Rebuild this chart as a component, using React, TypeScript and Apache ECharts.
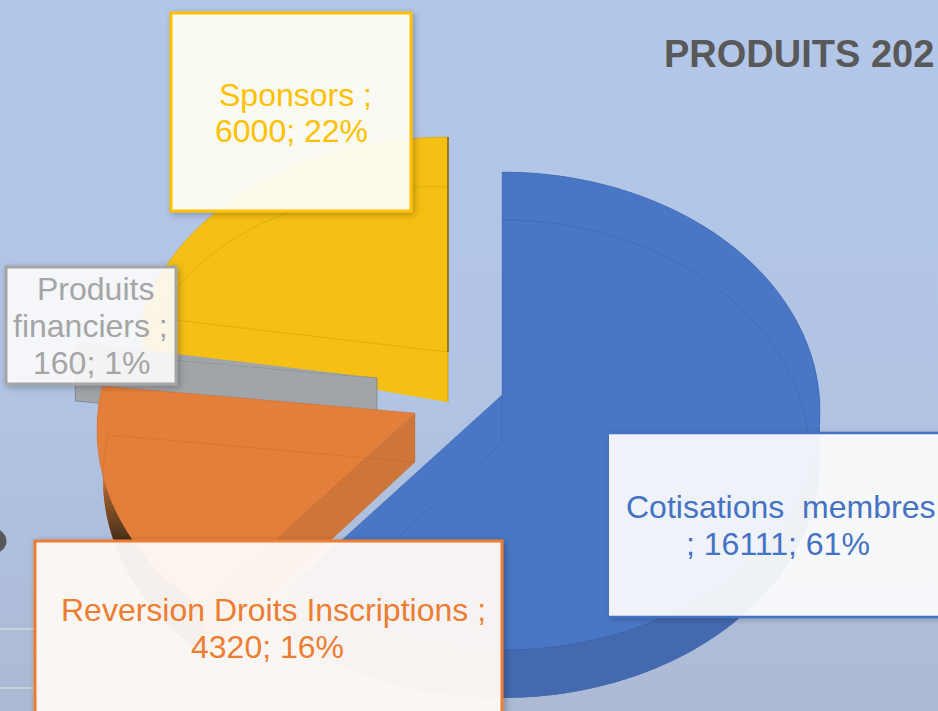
import React, { useEffect, useRef } from "react";
import * as echarts from "echarts";

// ---- data ----
const categories = ["Cotisations  membres", "Reversion Droits Inscriptions", "Produits financiers", "Sponsors"];
const seriesValues = [16111, 4320, 160, 6000];
const percentLabels = ["61%", "16%", "1%", "22%"];
const titleText = "PRODUITS 202";

// label lines, split as the picture splits them
const labelLines = [
  [`${categories[0]}`, `; ${seriesValues[0]}; ${percentLabels[0]}`],
  [`${categories[1]} ;`, `${seriesValues[1]}; ${percentLabels[1]}`],
  ["Produits", "financiers ;", `${seriesValues[2]}; ${percentLabels[2]}`],
  ["Sponsors ;", `${seriesValues[3]}; ${percentLabels[3]}`],
];

// ---- drawing layout (positions and styles only) ----
const FONT = "Liberation Sans, Arial, sans-serif";
const layout = [
  { cx: 502, cy: 411, apexY: 395, rx: 318, bottomRx: 318, rimRx: 308, ry: 239, depth: 48, startDepth: 48, order: 4,
    top: "#4a77c5", wall: "#4569ae", endWall: "#4a73bd", line: "rgba(50,85,150,.32)", color: "#4472c4", box: "rgba(255,255,255,0.9)" },
  { cx: 415, cy: 430, apexY: 413, rx: 318, bottomRx: 312, rimRx: 312, ry: 239, depth: 49, startDepth: 49, order: 3,
    top: "#e47f3b", wall: "#ce753a", endWall: "#ce753a", line: "rgba(190,95,35,.3)", color: "#ed7d31", box: "rgba(255,250,246,0.95)" },
  { cx: 377, cy: 395, apexY: 378, rx: 307, bottomRx: 307, rimRx: 307, ry: 239, depth: 50, startDepth: 50, order: 2,
    top: "#a0a5a9", wall: "#a0a5a9", endWall: "#a0a5a9", line: "rgba(120,125,130,.7)", color: "#a5a5a5", box: "rgba(255,255,255,0.88)" },
  { cx: 448, cy: 367, apexY: 352, rx: 314, bottomRx: 314, rimRx: 314, ry: 230, depth: 50, startDepth: 33, order: 1,
    top: "#f5c013", wall: "#f5bf14", endWall: "#7d6716", line: "rgba(190,145,10,.38)", color: "#ffc000", box: "rgba(255,254,245,0.94)" },
];

const boxes = [
  { x: 609, y: 433, w: 345, h: 184, textX: [626, 686], textY: [507, 544], lw: 0 },
  { x: 35, y: 541, w: 467, h: 190, textX: [61, 191], textY: [610, 647], lw: 3 },
  { x: 6, y: 267, w: 170, h: 117, textX: [37, 13, 33], textY: [289, 326, 363], lw: 3 },
  { x: 171, y: 13, w: 240, h: 198, textX: [219, 215], textY: [95, 131], lw: 3 },
];

const total = seriesValues.reduce((a, b) => a + b, 0);
const rad = (d: number) => (d * Math.PI) / 180;
// Perspective shifts the ellipse's parameter against the true pie angle.
const warp = (deg: number) => deg + 4 * Math.max(0, Math.min(1, deg / 218, (360 - deg) / 60));

function renderSlice(params: any, api: any) {
  const i = params.dataIndex;
  const L = layout[i];
  const sumBefore = seriesValues.slice(0, i).reduce((a, b) => a + b, 0);
  const a0 = (sumBefore / total) * 360;
  const a1 = ((sumBefore + api.value(0)) / total) * 360;
  const depthAt = (deg: number) => L.startDepth + ((L.depth - L.startDepth) * (deg - a0)) / (a1 - a0);
  const pt = (deg: number, bottom: boolean, rimX = false): number[] => {
    const p = rad(warp(deg));
    const rx = bottom ? (rimX ? L.rimRx : L.bottomRx) : L.rx;
    return [L.cx + rx * Math.sin(p), L.cy - L.ry * Math.cos(p) + (bottom ? depthAt(deg) : 0)];
  };
  const arc = (from: number, to: number, bottom: boolean, rimX = false) => {
    const pts: number[][] = [];
    const n = Math.max(2, Math.ceil(Math.abs(to - from) / 1.5));
    for (let k = 0; k <= n; k++) pts.push(pt(from + ((to - from) * k) / n, bottom, rimX));
    return pts;
  };
  const apexTop = [L.cx, L.apexY];
  const apexBot = [L.cx, L.apexY + L.depth];
  const z = L.order * 10;
  const children: any[] = [];
  const poly = (points: number[][], fill: any, stroke: string, z2: number, opacity = 1) =>
    children.push({ type: "polygon", z2, shape: { points }, style: { fill, stroke, lineWidth: 1, opacity } });
  const rim = (points: number[][], stroke: string, z2: number, lineWidth = 1) =>
    children.push({ type: "polyline", z2, shape: { points }, style: { fill: null, stroke, lineWidth } });

  // bottom face
  poly([apexBot, ...arc(a0, a1, true)], L.wall, "none", z);
  // outer wall
  const wallFill =
    i === 1
      ? new echarts.graphic.LinearGradient(0, 476, 0, 545, [
          { offset: 0, color: "#e47f3b" },
          { offset: 0.25, color: "#9a5c2c" },
          { offset: 1, color: "#3f2a18" },
        ], true)
      : L.wall;
  const front0 = Math.max(a0, 90);
  const front1 = Math.min(a1, 285);
  if (front1 > front0) {
    poly([...arc(front0, front1, false), ...arc(front1, front0, true)], wallFill, "none", z + 1);
  }
  if (i === 0) {
    poly([...arc(a0, 95, false), ...arc(95, a0, true)], L.top, "none", z + 1);
  }
  // the wall on the slice's first edge, turned towards the viewer for the left slices
  if (i >= 1) {
    poly([apexTop, apexBot, pt(a0, true), pt(a0, false)], L.wall, i === 2 ? L.line : "none", z + 2);
  }
  // top face
  poly([apexTop, ...arc(a0, a1, false)], L.top, "none", z + 3);
  // rim lines seen through the translucent face
  if (i !== 2) {
    rim(arc(a0, a1, true, true).filter((p) => p[1] < L.cy + L.depth + 4), L.line, z + 4);
    rim(arc(a0, a1, false), L.line, z + 4);
    rim([apexBot, pt(a1, true)], L.line, z + 4);
    rim([apexTop, apexBot], L.line, z + 4);
    rim([apexTop, pt(a0, false)], L.line, z + 4);
    rim([apexTop, pt(a1, false)], i === 3 ? L.endWall : L.line, z + 4, i === 3 ? 1.6 : 1);
  }
  return { type: "group", children };
}

export default function App() {
  const ref = useRef<HTMLDivElement>(null);
  useEffect(() => {
    document.body.style.margin = "0";
    document.body.style.overflow = "hidden";
    const chart = echarts.init(ref.current!, null, { renderer: "svg" });
    const elements: any[] = [
      { type: "line", z: 5, shape: { x1: 0, y1: 629, x2: 93, y2: 629 }, style: { stroke: "#d6d8dc", lineWidth: 1.5 } },
      { type: "line", z: 5, shape: { x1: 0, y1: 688, x2: 93, y2: 688 }, style: { stroke: "#d6d8dc", lineWidth: 1.5 } },
      { type: "ellipse", z: 5, shape: { cx: -10, cy: 541, rx: 13, ry: 10 }, style: { fill: "none", stroke: "#595959", lineWidth: 7 } },
    ];
    boxes.forEach((b, i) => {
      elements.push({
        type: "rect",
        z: 10 + i,
        shape: { x: b.x, y: b.y, width: b.w, height: b.h },
        style: {
          fill: layout[i].box,
          stroke: b.lw ? layout[i].color : "none",
          lineWidth: b.lw,
          shadowBlur: 7,
          shadowOffsetX: 2,
          shadowOffsetY: 2,
          shadowColor: "rgba(0,0,0,0.28)",
        },
      });
      if (!b.lw) {
        [b.y, b.y + b.h].forEach((y) =>
          elements.push({
            type: "line",
            z: 10 + i,
            shape: { x1: b.x, y1: y, x2: 938, y2: y },
            style: { stroke: layout[i].color, lineWidth: 2.5 },
          })
        );
      }
      labelLines[i].forEach((text, k) =>
        elements.push({
          type: "text",
          z: 20 + i,
          x: b.textX[k],
          y: b.textY[k],
          style: {
            text,
            fill: layout[i].color,
            font: `32px ${FONT}`,
            textAlign: "left",
            textVerticalAlign: "middle",
          },
        })
      );
    });
    chart.setOption({
      animation: false,
      title: {
        text: titleText,
        left: 664,
        top: 35,
        padding: 0,
        textStyle: { color: "#595959", fontFamily: FONT, fontWeight: "bold", fontSize: 38 },
      },
      series: [
        {
          type: "custom",
          coordinateSystem: "none",
          silent: true,
          clip: false,
          renderItem: renderSlice,
          data: seriesValues.map((v, i) => ({ name: categories[i], value: [v] })),
        },
      ],
      graphic: { elements },
    });
    return () => chart.dispose();
  }, []);
  return (
    <div
      ref={ref}
      style={{
        position: "absolute",
        left: 0,
        top: 0,
        width: 938,
        height: 711,
        background: "linear-gradient(to bottom, #b3c7e8 0%, #b1c4e4 55%, #acbad4 100%)",
      }}
    />
  );
}
